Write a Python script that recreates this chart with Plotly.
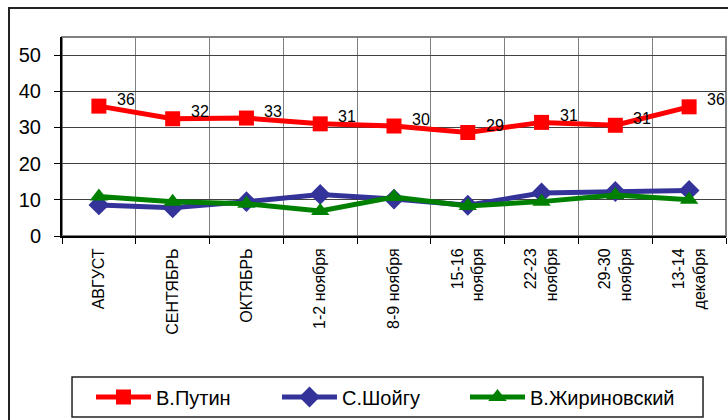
import plotly.graph_objects as go

periods = ['АВГУСТ', 'СЕНТЯБРЬ', 'ОКТЯБРЬ', '1-2 ноября', '8-9 ноября',
           '15-16<br>ноября', '22-23<br>ноября', '29-30<br>ноября', '13-14<br>декабря']
putin = [35.9, 32.4, 32.6, 31.0, 30.4, 28.6, 31.4, 30.6, 35.7]
shoigu = [8.6, 7.8, 9.5, 11.5, 10.2, 8.5, 11.9, 12.3, 12.6]
zhirinovsky = [10.9, 9.5, 8.9, 6.9, 10.8, 8.3, 9.5, 11.3, 10.0]

FONT = 'Liberation Sans, Arial, sans-serif'

fig = go.Figure()

fig.add_trace(go.Scatter(
    x=periods, y=putin, name='В.Путин', mode='lines+markers', legend='legend',
    line=dict(color='#FF0000', width=5),
    marker=dict(symbol='square', size=15, color='#FF0000'),
))
fig.add_trace(go.Scatter(
    x=periods, y=shoigu, name='С.Шойгу', mode='lines+markers', legend='legend2',
    line=dict(color='#333399', width=5),
    marker=dict(symbol='diamond', size=16, color='#333399'),
))
fig.add_trace(go.Scatter(
    x=periods, y=zhirinovsky, name='В.Жириновский', mode='lines+markers', legend='legend3',
    line=dict(color='#008000', width=5),
    marker=dict(symbol='triangle-up', size=16, color='#008000'),
))

# value labels for Putin, up and to the right of each marker
for p, v in zip(periods, putin):
    fig.add_annotation(x=p, y=v, text=f'{v:.0f}', showarrow=False,
                       xanchor='left', yanchor='middle', xshift=16, yshift=7,
                       font=dict(size=16, color='black', family=FONT))

fig.update_xaxes(
    type='category', range=[-0.5, 8.5], tickson='boundaries', automargin=False,
    showgrid=True, gridcolor='#808080', gridwidth=1,
    showline=True, linecolor='black', linewidth=2,
    ticks='outside', ticklen=6, tickcolor='black',
    tickangle=-90, ticklabelstandoff=4,
    tickfont=dict(size=16, color='black', family=FONT),
)
fig.update_yaxes(
    range=[0, 55], tickvals=[0, 10, 20, 30, 40, 50], automargin=False,
    showgrid=True, gridcolor='#404040', gridwidth=1, zeroline=False,
    showline=True, linecolor='black', linewidth=2,
    ticks='outside', ticklen=6, tickcolor='black', ticklabelstandoff=9,
    tickfont=dict(size=20, color='black', family=FONT),
)


def legend_at(px):
    # one legend per series so each entry sits where the reference puts it
    return dict(orientation='h', x=(px - 62) / 664, y=-0.809,
                xanchor='left', yanchor='middle',
                borderwidth=0, bgcolor='rgba(0,0,0,0)', itemwidth=55,
                font=dict(size=20, color='black', family=FONT))


fig.update_layout(
    width=728, height=420,
    margin=dict(l=62, r=2, t=37, b=184),
    plot_bgcolor='white', paper_bgcolor='white',
    font=dict(family=FONT, color='black'),
    showlegend=True,
    legend=legend_at(91),
    legend2=legend_at(277),
    legend3=legend_at(465),
    shapes=[
        # plot area frame
        dict(type='rect', xref='paper', yref='paper', x0=0, y0=0, x1=1, y1=1,
             line=dict(color='#808080', width=2), layer='below'),
        # outer chart frame
        dict(type='rect', xref='paper', yref='paper', x0=-0.0798, y0=-1.2, x1=1.05, y1=1.1457,
             line=dict(color='#222222', width=2), layer='below'),
        # legend box
        dict(type='rect', xref='paper', yref='paper', x0=0.0151, y0=-0.9095, x1=0.9654, y1=-0.7085,
             line=dict(color='#222222', width=1.5), layer='below'),
    ],
)

fig.write_html('out.html', config={'displayModeBar': False},
               post_script="document.body.style.margin='0';")
